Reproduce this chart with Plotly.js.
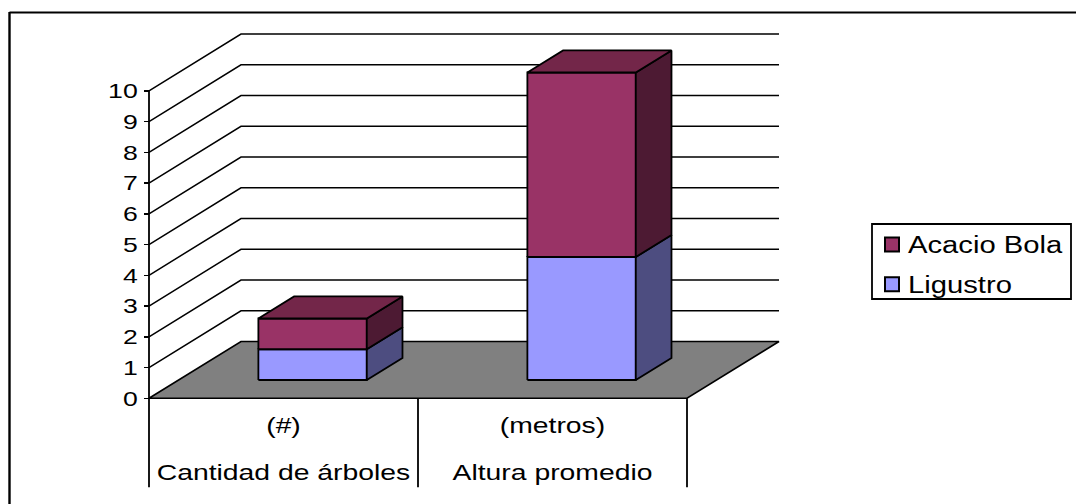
<!DOCTYPE html>
<html><head><meta charset="utf-8">
<script src="https://cdn.plot.ly/plotly-3.0.1.min.js"></script>
<style>html,body{margin:0;padding:0;background:#fff}#c{width:1076px;height:504px}</style>
</head><body><div id="c"></div>
<script>
const categories = ["Cantidad de árboles", "Altura promedio"];
const units = ["(#)", "(metros)"];
const ligustro = [1, 4];
const acacioBola = [1, 6];
const yTicks = [0,1,2,3,4,5,6,7,8,9,10];

// Chart frame in pixels, used to build the axes
const W = 1076, H = 504, X0 = 149, PX_X = 269, Y0 = 398.3, PX_Y = 30.75;
// 3D projection, in axis units: how far one full depth step moves a point
const DX = 92/PX_X, DY = 56.8/PX_Y;
const BAR_W = 0.403, BAR_SHIFT = -0.002, T0 = 0.322, T1 = 0.71;
const FONT = "Liberation Sans, Arial, sans-serif";
const EDGE = {color:"#000", width:1.8};
const STRETCH = 1.27;
const px = v => v/W, py = v => (H-v)/H;

const traces = [];
function poly(x, y, fill, line){
  traces.push({type:"scatter", mode:"lines", x, y, fill:"toself", fillcolor:fill,
    line: line || EDGE, showlegend:false, hoverinfo:"skip"});
}
function line(x, y, width){
  traces.push({type:"scatter", mode:"lines", x, y, line:{color:"#000", width:width||1.5},
    showlegend:false, hoverinfo:"skip"});
}
// wall grid
yTicks.forEach(v => { if (v>0) line([0, DX, 2+DX], [v, v+DY, v+DY]); });
// floor
poly([0, DX, 2+DX, 2, 0], [0, DY, DY, 0, 0], "#808080", {color:"#000", width:1.6});
// value axis line and category separators
line([0,0],[0,10],1.8);
[0,1,2].forEach(k => line([k,k],[0,-2.89],1.8));
// bars
function box(cat, lo, hi, front, side, top){
  const c = cat + 0.5 + BAR_SHIFT, a = c - BAR_W/2, b = c + BAR_W/2;
  const x0 = T0*DX, y0 = T0*DY, x1 = T1*DX, y1 = T1*DY;
  poly([a+x0,b+x0,b+x0,a+x0,a+x0],[lo+y0,lo+y0,hi+y0,hi+y0,lo+y0],front);
  poly([b+x0,b+x1,b+x1,b+x0,b+x0],[lo+y0,lo+y1,hi+y1,hi+y0,lo+y0],side);
  if (top) poly([a+x0,b+x0,b+x1,a+x1,a+x0],[hi+y0,hi+y0,hi+y1,hi+y1,hi+y0],top);
}
categories.forEach((_, i) => {
  box(i, 0, ligustro[i], "#9999FF", "#4D4D80");
  box(i, ligustro[i], ligustro[i]+acacioBola[i], "#993366", "#4D1A33", "#732649");
});
// category labels (outer level)
traces.push({type:"scatter", mode:"text", x:[0.5,1.5], y:[-2.47,-2.47], text:categories,
  textposition:"middle center", textfont:{family:FONT,size:22.3,color:"#000"},
  showlegend:false, hoverinfo:"skip"});
// legend keys
traces.push({type:"scatter", mode:"markers", name:"Acacio Bola", x:[null], y:[null], legendgroup:"a",
  marker:{symbol:"square", size:14, color:"#993366", line:{color:"#000", width:2}}});
traces.push({type:"scatter", mode:"markers", name:"Ligustro", x:[null], y:[null], legendgroup:"l",
  marker:{symbol:"square", size:14, color:"#9999FF", line:{color:"#000", width:2}}});

const layout = {
  width:W, height:H, autosize:false,
  margin:{l:0, r:0, t:0, b:0, autoexpand:false},
  paper_bgcolor:"#fff", plot_bgcolor:"rgba(0,0,0,0)",
  font:{family:FONT, color:"#000"},
  xaxis:{type:"linear", range:[-X0/PX_X, (W-X0)/PX_X], anchor:"free", position:py(Y0),
    tickmode:"array", tickvals:[0.5,1.5], ticktext:units,
    ticks:"", showgrid:false, zeroline:false, showline:false,
    tickfont:{family:FONT,size:22.3,color:"#000"}, ticklabelstandoff:11},
  yaxis:{type:"linear", range:[-(H-Y0)/PX_Y, Y0/PX_Y], anchor:"free", position:px(X0),
    tickmode:"array", tickvals:yTicks, ticks:"outside", ticklen:5, tickwidth:1.5,
    tickcolor:"#000", showgrid:false, zeroline:false, showline:false,
    tickfont:{family:FONT,size:21,color:"#000"}, ticklabelstandoff:2},
  showlegend:true,
  legend:{x:px(872), y:py(223), xanchor:"left", yanchor:"top",
    bgcolor:"rgba(0,0,0,0)", borderwidth:0, font:{family:FONT,size:23,color:"#000"},
    tracegroupgap:7, traceorder:"grouped", itemsizing:"trace"},
  shapes:[
    {type:"rect", xref:"paper", yref:"paper", x0:px(872), x1:px(1071), y0:py(299), y1:py(224),
      line:{color:"#000", width:1.8}, fillcolor:"#fff", layer:"below"},
    {type:"line", xref:"paper", yref:"paper", x0:px(9.5), x1:1, y0:py(12.5), y1:py(12.5), line:{color:"#000", width:2}},
    {type:"line", xref:"paper", yref:"paper", x0:px(9.5), x1:px(9.5), y0:py(12), y1:0, line:{color:"#000", width:2.4}}
  ]
};
Plotly.newPlot("c", traces, layout, {staticPlot:true, displayModeBar:false}).then(gd => {
  gd.querySelectorAll(".xtick text,.ytick text,.legendtext,.textpoint text").forEach(t => {
    const w = t.getComputedTextLength();
    if (w > 0) { t.setAttribute("lengthAdjust","spacingAndGlyphs"); t.setAttribute("textLength", (w*STRETCH).toFixed(1)); }
  });
  gd.querySelectorAll(".legendtext").forEach(t => t.setAttribute("x", parseFloat(t.getAttribute("x"))-4));
  gd.querySelectorAll(".legend [clip-path], .legend[clip-path]").forEach(e => e.removeAttribute("clip-path"));
});
</script></body></html>
